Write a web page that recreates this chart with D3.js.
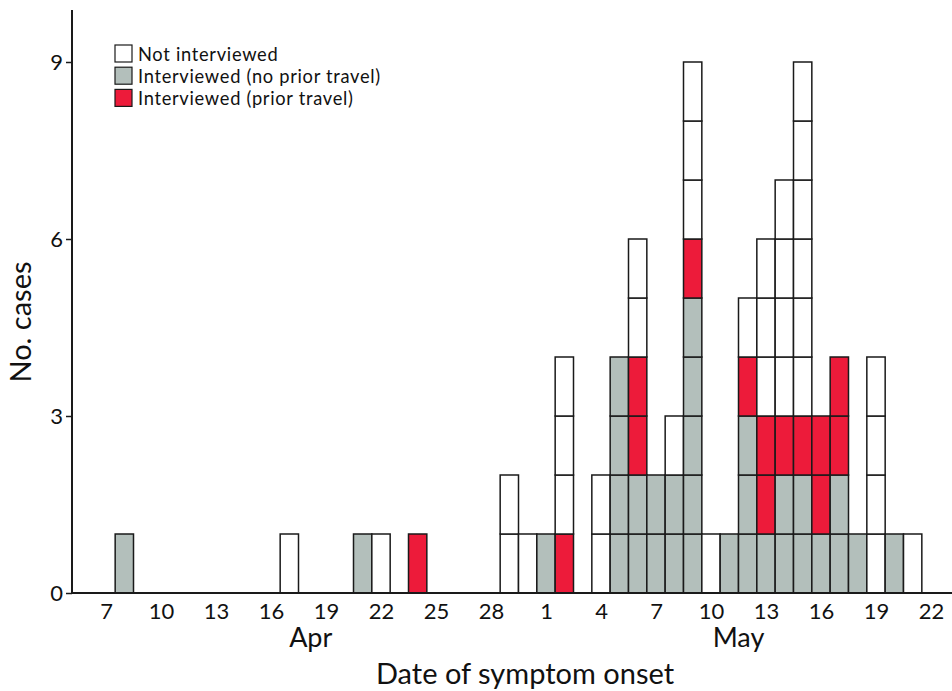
<!DOCTYPE html>
<html>
<head>
<meta charset="utf-8">
<script src="https://cdn.jsdelivr.net/npm/d3@7"></script>
<style>
  body { margin: 0; background: #fff; }
  svg { display: block; font-family: Lato, "Open Sans", sans-serif; }
</style>
</head>
<body>
<svg id="chart" width="952" height="691"></svg>
<script>
// ---- Data ----
const onsetDates = ["2019-04-08","2019-04-17","2019-04-21","2019-04-22","2019-04-24","2019-04-29","2019-04-30",
  "2019-05-01","2019-05-02","2019-05-04","2019-05-05","2019-05-06","2019-05-07","2019-05-08","2019-05-09","2019-05-10",
  "2019-05-11","2019-05-12","2019-05-13","2019-05-14","2019-05-15","2019-05-16","2019-05-17","2019-05-18","2019-05-19",
  "2019-05-20","2019-05-21"];
const noTravel   = [1,0,1,0,0,0,0,1,0,0,4,2,2,2,5,0,1,3,1,2,2,1,2,1,0,1,0];
const priorTravel= [0,0,0,0,1,0,0,0,1,0,0,2,0,0,1,0,0,1,2,1,1,2,2,0,0,0,0];
const notInterviewed = [0,1,0,1,0,2,1,0,3,2,0,2,0,1,3,1,0,1,3,4,6,0,0,0,4,0,1];
const seriesNames = ["Not interviewed","Interviewed (no prior travel)","Interviewed (prior travel)"];
const yTicks = [0,3,6,9];
const xTickDates = ["2019-04-07","2019-04-10","2019-04-13","2019-04-16","2019-04-19","2019-04-22","2019-04-25","2019-04-28",
  "2019-05-01","2019-05-04","2019-05-07","2019-05-10","2019-05-13","2019-05-16","2019-05-19","2019-05-22"];
const monthLabels = [{label:"Apr", date:"2019-04-18T04:00"}, {label:"May", date:"2019-05-11T12:00"}];

const colors = {"Not interviewed":"#ffffff","Interviewed (no prior travel)":"#b3bfbb","Interviewed (prior travel)":"#ed1b3a"};

// ---- Layout ----
const svg = d3.select("#chart");
const parse = d3.utcParse("%Y-%m-%d");
const parseT = d3.utcParse("%Y-%m-%dT%H:%M");
const axisX0 = 72, axisX1 = 952, baseY = 593, topY = 10;
const FONT = "Lato, 'Open Sans', sans-serif";

const x = d3.scaleUtc()
  .domain([parse("2019-04-07"), parse("2019-05-22")])
  .range([106, 931]);
const y = d3.scaleLinear().domain([0, 9]).range([baseY, 62]);

const dayW = x(parse("2019-04-08")) - x(parse("2019-04-07"));

// Build unit boxes: gray at bottom, red middle, white top
const boxes = [];
onsetDates.forEach((ds, i) => {
  const d = parse(ds);
  let level = 0;
  const stack = [
    ["Interviewed (no prior travel)", noTravel[i]],
    ["Interviewed (prior travel)", priorTravel[i]],
    ["Not interviewed", notInterviewed[i]]
  ];
  stack.forEach(([name, n]) => {
    for (let k = 0; k < n; k++) {
      boxes.push({date: d, y0: level, y1: level + 1, cat: name});
      level++;
    }
  });
});

svg.append("g").selectAll("rect").data(boxes).join("rect")
  .attr("x", d => x(d.date) - dayW / 2)
  .attr("width", dayW)
  .attr("y", d => y(d.y1))
  .attr("height", d => y(d.y0) - y(d.y1))
  .attr("fill", d => colors[d.cat])
  .attr("stroke", "#1a1a1a")
  .attr("stroke-width", 1.5);

// Axes
svg.append("line").attr("x1", axisX0).attr("x2", axisX1).attr("y1", baseY).attr("y2", baseY)
  .attr("stroke", "#1a1a1a").attr("stroke-width", 2);
svg.append("line").attr("x1", axisX0).attr("x2", axisX0).attr("y1", topY).attr("y2", baseY)
  .attr("stroke", "#1a1a1a").attr("stroke-width", 2);

const yAxis = svg.append("g").attr("transform", `translate(${axisX0},0)`)
  .call(d3.axisLeft(y).tickValues(yTicks).tickSize(6).tickPadding(3).tickFormat(d3.format("d")));
yAxis.select(".domain").remove();
yAxis.selectAll("line").attr("stroke", "#1a1a1a").attr("stroke-width", 1.5);
yAxis.selectAll("text").attr("font-size", 22).attr("fill", "#111").attr("font-family", FONT);

const xAxis = svg.append("g").attr("transform", `translate(0,${baseY})`)
  .call(d3.axisBottom(x).tickValues(xTickDates.map(parse)).tickSize(0).tickPadding(10).tickFormat(d3.utcFormat("%-d")));
xAxis.select(".domain").remove();
xAxis.selectAll("text").attr("font-size", 22).attr("fill", "#111").attr("font-family", FONT);

svg.selectAll(".month").data(monthLabels).join("text")
  .attr("class", "month")
  .attr("x", d => x(parseT(d.date)))
  .attr("y", 647)
  .attr("text-anchor", "middle")
  .attr("font-size", 27)
  .attr("fill", "#111")
  .text(d => d.label);

svg.append("text").attr("x", 525).attr("y", 684).attr("text-anchor", "middle")
  .attr("font-size", 29).attr("fill", "#111").text("Date of symptom onset");

svg.append("text").attr("transform", "translate(31,322) rotate(-90)").attr("text-anchor", "middle")
  .attr("font-size", 29).attr("fill", "#111").text("No. cases");

// Legend
const leg = svg.append("g").attr("transform", "translate(115,45)");
const legRows = leg.selectAll("g").data(seriesNames).join("g")
  .attr("transform", (d, i) => `translate(0,${i * 22.2})`);
legRows.append("rect").attr("width", 17).attr("height", 17)
  .attr("fill", d => colors[d]).attr("stroke", "#1a1a1a").attr("stroke-width", 1.2);
legRows.append("text").attr("x", 23).attr("y", 15.5).attr("font-size", 18.3)
  .attr("letter-spacing", 0.7).attr("fill", "#111").text(d => d);
</script>
</body>
</html>
